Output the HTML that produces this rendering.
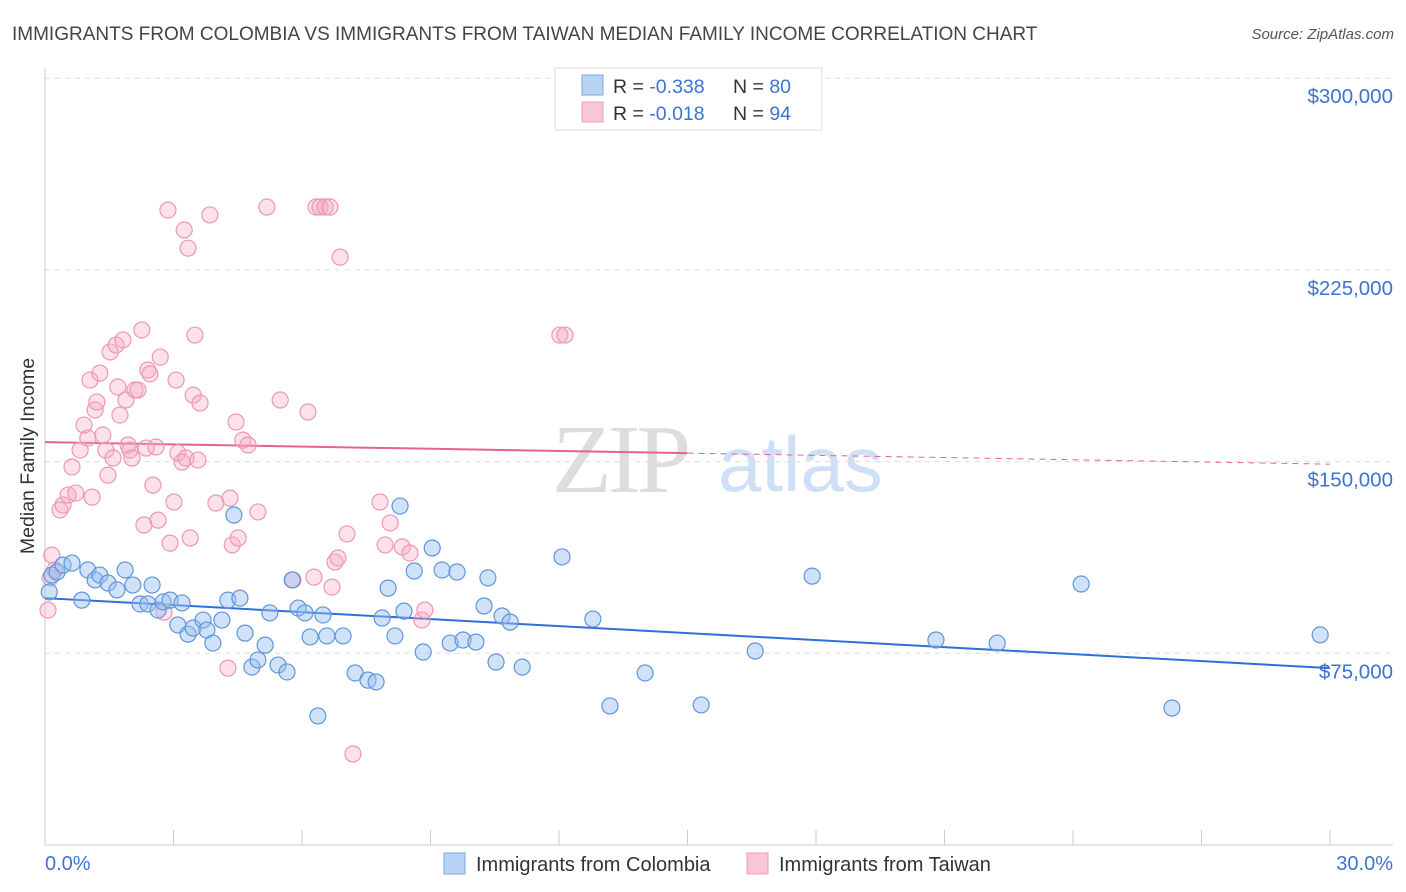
<!DOCTYPE html>
<html><head><meta charset="utf-8"><style>
body{margin:0;background:#fff;font-family:"Liberation Sans",sans-serif;}
svg{display:block}
</style></head><body>
<svg id="chart" width="1406" height="892">
<text x="12" y="40" font-size="19" fill="#444">IMMIGRANTS FROM COLOMBIA VS IMMIGRANTS FROM TAIWAN MEDIAN FAMILY INCOME CORRELATION CHART</text>
<text x="1394" y="39" font-size="15" fill="#555" font-style="italic" text-anchor="end">Source: ZipAtlas.com</text>
<g>
<text x="552" y="492" font-size="98" fill="#ddd" font-family="Liberation Serif,serif" letter-spacing="-4">ZIP</text>
<text x="718" y="491" font-size="78" fill="#cfe0f4">atlas</text>
</g>
<g id="grid"></g>
<g id="axes"></g>
<g id="trend"></g>
<g id="pts"></g>
<text transform="translate(34,456) rotate(-90)" font-size="19.5" fill="#333" text-anchor="middle">Median Family Income</text>
<g>
<rect x="555" y="68" width="267" height="62" fill="#fff" stroke="#ddd"/>
<rect x="582" y="75" width="21" height="20" fill="#b9d3f5" stroke="#7aa7e3"/>
<rect x="582" y="102" width="21" height="20" fill="#f9c6d6" stroke="#ee9fbb"/>
<text x="613" y="93" font-size="19.5" fill="#333">R = <tspan fill="#3b74d1">-0.338</tspan><tspan x="733">N = </tspan><tspan fill="#3b74d1">80</tspan></text>
<text x="613" y="120" font-size="19.5" fill="#333">R = <tspan fill="#3b74d1">-0.018</tspan><tspan x="733">N = </tspan><tspan fill="#3b74d1">94</tspan></text>
</g>
<g>
<rect x="444" y="853" width="21" height="21" fill="#b9d3f5" stroke="#7aa7e3"/>
<text x="476" y="871" font-size="20" fill="#333">Immigrants from Colombia</text>
<rect x="747" y="853" width="21" height="21" fill="#f9c6d6" stroke="#ee9fbb"/>
<text x="779" y="871" font-size="20" fill="#333">Immigrants from Taiwan</text>
</g>
</svg>
<script>
const yTicks=[75000,150000,225000,300000];
const yTickLabels=["$75,000","$150,000","$225,000","$300,000"];
const xTickLabels=["0.0%","30.0%"];
const blueX=[0.16,0.28,0.42,0.63,0.86,1.0,1.17,1.28,1.47,1.68,1.87,2.05,2.22,2.4,2.5,2.64,2.76,2.92,3.1,3.2,3.34,3.46,3.69,3.78,3.92,4.13,4.27,4.41,4.55,4.67,4.83,4.97,5.14,5.25,5.44,5.65,5.77,5.91,6.07,6.19,6.37,6.49,6.58,6.96,7.24,7.54,7.73,7.87,8.01,8.17,8.29,8.38,8.62,8.83,9.04,9.27,9.46,9.62,9.76,10.06,10.25,10.34,10.53,10.67,10.86,11.14,12.07,12.79,13.19,14.01,15.32,16.58,17.91,20.8,22.23,24.19,26.31,29.77,0.1];
const blueY=[105.6,106.8,109.5,110.3,95.8,107.6,103.7,105.6,102.5,99.8,107.6,101.7,94.3,94.3,101.7,91.9,95.1,95.8,86.1,94.7,82.5,84.9,88.0,84.1,79.0,88.0,95.8,129.1,96.6,82.9,69.6,72.4,78.2,90.8,70.4,67.7,103.7,92.7,90.8,81.4,50.5,90.0,81.8,81.8,67.3,64.5,63.8,88.8,100.5,81.8,132.6,91.5,107.2,75.5,116.2,107.6,79.0,106.8,80.2,79.4,93.5,104.5,71.6,89.6,87.2,69.6,112.7,88.4,54.4,67.3,54.8,75.9,105.2,80.2,79.0,102.1,53.6,82.2,99.0];
const pinkX=[0.07,0.12,0.16,0.23,0.35,0.42,0.54,0.63,0.72,0.82,0.91,1.0,1.05,1.1,1.17,1.21,1.28,1.35,1.42,1.47,1.52,1.59,1.66,1.7,1.75,1.82,1.89,1.94,1.98,2.03,2.1,2.17,2.26,2.31,2.36,2.4,2.45,2.52,2.59,2.64,2.69,2.78,2.87,2.92,3.01,3.06,3.1,3.2,3.25,3.29,3.34,3.39,3.46,3.5,3.57,3.62,3.85,3.99,4.27,4.32,4.37,4.46,4.51,4.62,4.74,4.97,5.18,5.49,5.79,6.14,6.28,6.33,6.42,6.54,6.65,6.7,6.77,6.84,6.89,7.05,7.19,7.82,7.94,8.06,8.34,8.52,8.8,8.87,12.02,12.14];
const pinkY=[91.9,104.5,113.4,107.6,131.1,133.0,136.9,147.9,137.7,154.5,164.3,159.2,181.9,136.1,170.2,173.3,184.6,160.4,154.5,144.7,192.9,151.4,195.6,179.2,168.2,197.6,174.1,156.5,154.5,151.4,178.0,178.0,201.5,125.2,155.3,185.8,184.3,140.8,155.7,127.1,190.9,91.1,248.4,118.1,134.2,181.9,153.4,149.8,240.6,151.4,233.5,120.1,176.0,199.5,150.6,172.9,246.5,133.8,69.2,135.7,117.4,165.5,120.1,158.4,156.5,130.3,249.6,174.1,103.7,169.4,104.8,249.6,249.6,249.6,249.6,100.9,110.7,112.3,230.0,121.7,35.6,134.2,117.4,126.0,116.6,114.2,88.0,91.9,199.5,199.5];
const blueTrend=[96.6,69.2];
const pinkTrend=[157.6,149.0];
const NS="http://www.w3.org/2000/svg";
const X0=45,X1=1330,Y0=845,YPX=766.8/300;
function sx(p){return X0+p/30*(X1-X0);}
function sy(k){return Y0-k*YPX;}
function mk(tag,attrs,parent){const e=document.createElementNS(NS,tag);for(const k in attrs)e.setAttribute(k,attrs[k]);parent.appendChild(e);return e;}
const grid=document.getElementById('grid'),axes=document.getElementById('axes'),trend=document.getElementById('trend'),pts=document.getElementById('pts');
yTicks.forEach((v,i)=>{
 const y=sy(v/1000);
 const l=mk('line',{x1:45,x2:1393,y1:y,y2:y,stroke:'#ddd','stroke-dasharray':'5,5'},grid);
 
 
 const t=mk('text',{x:1393,y:y+25,'font-size':20.5,fill:'#3b74d1','text-anchor':'end'},axes);
 t.textContent=yTickLabels[i];
 
 
});
mk('line',{x1:45,x2:45,y1:68,y2:845,stroke:'#ccc'},axes);
mk('line',{x1:45,x2:1393,y1:845,y2:845,stroke:'#ccc'},axes);
for(let i=0;i<=10;i++){const x=sx(i*3);mk('line',{x1:x,x2:x,y1:830,y2:845,stroke:'#ccc'},axes);}
const xl0=mk('text',{x:45,y:870,'font-size':20,fill:'#3b74d1'},axes);xl0.textContent=xTickLabels[0];


const xl1=mk('text',{x:1393,y:870,'font-size':20,fill:'#3b74d1','text-anchor':'end'},axes);xl1.textContent=xTickLabels[1];


function drawPts(xs,ys,fill,stroke,name){
 xs.forEach((x,i)=>{const c=mk('circle',{cx:sx(x),cy:sy(ys[i]),r:8,fill:fill,stroke:stroke,'stroke-width':1.2},pts);
 
 });
}
drawPts(pinkX,pinkY,'rgba(246,170,196,0.35)','#ec97b5','point-taiwan');
drawPts(blueX,blueY,'rgba(150,190,240,0.45)','#5f95dc','point-colombia');
const bl=mk('line',{x1:sx(0),y1:sy(blueTrend[0]),x2:sx(30),y2:sy(blueTrend[1]),stroke:'#2f6fd6','stroke-width':2},trend);


const pm=pinkTrend[0]+(pinkTrend[1]-pinkTrend[0])*0.5;
const pl=mk('line',{x1:sx(0),y1:sy(pinkTrend[0]),x2:sx(15),y2:sy(pm),stroke:'#e8628e','stroke-width':2},trend);


const pd=mk('line',{x1:sx(15),y1:sy(pm),x2:sx(30),y2:sy(pinkTrend[1]),stroke:'#e8628e','stroke-width':1,'stroke-dasharray':'6,5'},trend);


</script>
</body></html>
